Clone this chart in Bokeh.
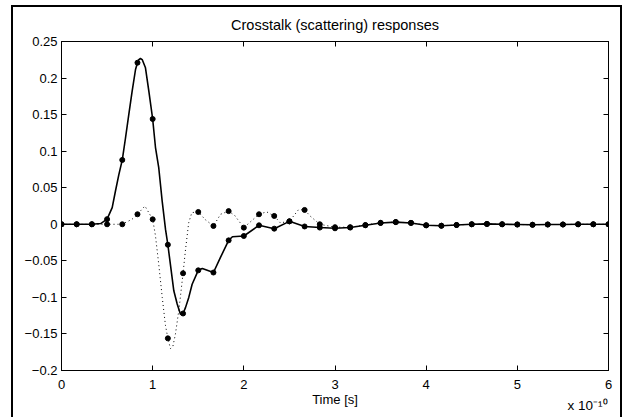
from bokeh.plotting import figure
from bokeh.models import Range1d, FixedTicker, LinearAxis
from bokeh.embed import file_html
from bokeh.resources import INLINE

# ---- data (time in units of 1e-10 s) ----
t_marks = [0, 0.1667, 0.3333, 0.5, 0.6667, 0.8333, 1.0, 1.1667, 1.3333, 1.5, 1.6667, 1.8333,
           2.0, 2.1667, 2.3333, 2.5, 2.6667, 2.8333, 3.0, 3.1667, 3.3333, 3.5, 3.6667, 3.8333,
           4.0, 4.1667, 4.3333, 4.5, 4.6667, 4.8333, 5.0, 5.1667, 5.3333, 5.5, 5.6667, 5.8333, 6.0]
solid_marks = [0, 0, 0, 0.007, 0.088, 0.221, 0.144, -0.028, -0.122, -0.063, -0.066, -0.022,
               -0.016, -0.0014, -0.006, 0.004, -0.003, -0.0045, -0.0055, -0.0045, -0.0014, 0.0018,
               0.003, 0.0018, -0.0014, -0.002, -0.001, 0, 0.0005, 0, -0.0003, -0.0007,
               -0.0003, -0.0003, 0, 0, 0]
dotted_marks = [0, 0, 0, 0, 0, 0.0137, 0.0068, -0.156, -0.067, 0.0168, -0.0023, 0.018,
                -0.0046, 0.0137, 0.0114, 0.004, 0.0196, 0, -0.004, -0.004, -0.001, 0.002,
                0.003, 0.002, -0.0014, -0.002, -0.001, 0, 0.0005, 0, -0.0003, -0.0007,
                -0.0003, -0.0003, 0, 0, 0]

solid_line_t = [0, 0.1667, 0.3333, 0.43, 0.5, 0.556, 0.592, 0.629, 0.6667, 0.702, 0.738,
                0.775, 0.812, 0.8333, 0.848, 0.866, 0.885, 0.921, 0.958, 1.0, 1.031, 1.067,
                1.104, 1.141, 1.1667, 1.232, 1.269, 1.305, 1.3333, 1.360, 1.396, 1.433, 1.5,
                1.545, 1.6667, 1.745, 1.8333, 1.875, 2.0, 2.1667, 2.3333, 2.5, 2.6667, 2.8333,
                3.0, 3.1667, 3.3333, 3.5, 3.6667, 3.8333, 4.0, 4.1667, 4.3333, 4.5, 4.6667,
                4.8333, 5.0, 5.1667, 5.3333, 5.5, 5.6667, 5.8333, 6.0]
solid_line_y = [0, 0, 0, 0.001, 0.007, 0.0227, 0.0455, 0.068, 0.088, 0.118, 0.150,
                0.182, 0.2117, 0.221, 0.2253, 0.2268, 0.2253, 0.214, 0.182, 0.144, 0.105, 0.077,
                0.032, -0.007, -0.028, -0.091, -0.109, -0.123, -0.122, -0.114, -0.100, -0.082,
                -0.063, -0.0605, -0.066, -0.045, -0.022, -0.017, -0.016, -0.0014, -0.006,
                0.004, -0.003, -0.0045, -0.0055, -0.0045, -0.0014, 0.0018, 0.003, 0.0018,
                -0.0014, -0.002, -0.001, 0, 0.0005, 0, -0.0003, -0.0007, -0.0003, -0.0003,
                0, 0, 0]

dotted_line_t = [0, 0.1667, 0.3333, 0.5, 0.6667, 0.775, 0.8333, 0.915, 1.0, 1.03, 1.067,
                 1.105, 1.14, 1.1667, 1.195, 1.22, 1.25, 1.29, 1.3333, 1.36, 1.395, 1.43,
                 1.5, 1.58, 1.6667, 1.745, 1.8333, 1.90, 2.0, 2.1667, 2.25, 2.3333, 2.40,
                 2.5, 2.60, 2.6667, 2.73, 2.8333, 3.0, 3.1667, 3.3333, 3.5, 3.6667, 3.8333,
                 4.0, 4.1667, 4.3333, 4.5, 4.6667, 4.8333, 5.0, 5.1667, 5.3333, 5.5, 5.6667,
                 5.8333, 6.0]
dotted_line_y = [0, 0, 0, 0, 0, 0.007, 0.0137, 0.025, 0.0068, -0.015, -0.055, -0.100,
                 -0.138, -0.156, -0.170, -0.168, -0.150, -0.115, -0.067, -0.035, 0.002, 0.016,
                 0.0168, 0.006, -0.0023, 0.0137, 0.018, 0.012, -0.0046, 0.0137, 0.017, 0.0114,
                 0.002, 0.004, 0.020, 0.0196, 0.011, 0, -0.004, -0.004, -0.001, 0.002, 0.003,
                 0.002, -0.0014, -0.002, -0.001, 0, 0.0005, 0, -0.0003, -0.0007, -0.0003,
                 -0.0003, 0, 0, 0]

x_ticks = [0, 1, 2, 3, 4, 5, 6]
x_tick_labels = ["0", "1", "2", "3", "4", "5", "6"]
y_ticks = [-0.2, -0.15, -0.1, -0.05, 0, 0.05, 0.1, 0.15, 0.2, 0.25]
y_tick_labels = ["\u22120.2", "\u22120.15", "\u22120.1", "\u22120.05", "0", "0.05", "0.1",
                 "0.15", "0.2", "0.25"]
title_text = "Crosstalk (scattering) responses"
x_label = "Time [s]"
x_scale_note = "x 10\u207b\u00b9\u2070"
x_scale_note_at = 5.77   # horizontal centre of the scale note, in axis units

FONT = "Liberation Sans"
W, H = 611, 412
L, R, T, B = 48, 16, 34, 49

p = figure(width=W, height=H, output_backend="svg", toolbar_location=None,
           x_range=Range1d(0, 6), y_range=Range1d(-0.2, 0.25),
           min_border_left=L, min_border_right=R, min_border_top=T, min_border_bottom=B,
           background_fill_color="white", border_fill_color="white",
           margin=(5, 0, 0, 11),
           styles={"border-left": "2px solid black", "border-top": "2px solid black",
                   "border-right": "2px solid black"})
p.grid.visible = False
p.outline_line_color = "black"
p.outline_line_width = 1

def style_axis(ax, ticks, labels, show_labels=True):
    ax.ticker = FixedTicker(ticks=ticks)
    ax.major_label_overrides = {tk: (lb if show_labels else "") for tk, lb in zip(ticks, labels)}
    ax.axis_line_color = "black"
    ax.major_tick_line_color = "black"
    ax.major_tick_in = 5
    ax.major_tick_out = 0
    ax.minor_tick_line_color = None
    ax.major_label_text_font = FONT
    ax.major_label_text_color = "black"
    ax.major_label_text_font_size = "13px" if show_labels else "1px"
    ax.major_label_standoff = 4 if show_labels else 0

xa = p.xaxis[0]
style_axis(xa, x_ticks, x_tick_labels)
xa.major_label_standoff = 9
xa.axis_label = x_label
xa.axis_label_text_font = FONT
xa.axis_label_text_font_size = "13px"
xa.axis_label_text_font_style = "normal"
xa.axis_label_text_color = "black"
xa.axis_label_standoff = 0
style_axis(p.yaxis[0], y_ticks, y_tick_labels)
top = LinearAxis()
style_axis(top, x_ticks, x_tick_labels, False)
right = LinearAxis()
style_axis(right, y_ticks, y_tick_labels, False)
p.add_layout(top, "above")
p.add_layout(right, "right")

# the "x 10^-10" scale note, drawn as the single label of a bare axis under the x axis
note_axis = LinearAxis(ticker=FixedTicker(ticks=[x_scale_note_at]),
                       major_label_overrides={x_scale_note_at: x_scale_note},
                       axis_line_color=None, major_tick_line_color=None,
                       minor_tick_line_color=None, major_tick_in=0, major_tick_out=0,
                       major_label_text_font=FONT, major_label_text_font_size="13.5px",
                       major_label_text_color="black", major_label_standoff=-12)
p.add_layout(note_axis, "below")

p.title.text = title_text
p.title.align = "center"
p.title.vertical_align = "middle"
p.title.text_font = FONT
p.title.text_font_size = "14.5px"
p.title.text_font_style = "normal"
p.title.text_color = "black"
p.title.standoff = 15

p.line(dotted_line_t, dotted_line_y, line_color="black", line_width=1, line_dash="1 3")
p.line(solid_line_t, solid_line_y, line_color="black", line_width=1.6)
p.scatter(t_marks, dotted_marks, size=5, color="black")
p.scatter(t_marks, solid_marks, size=5, color="black")

open("out.html", "w").write(file_html(p, INLINE))
